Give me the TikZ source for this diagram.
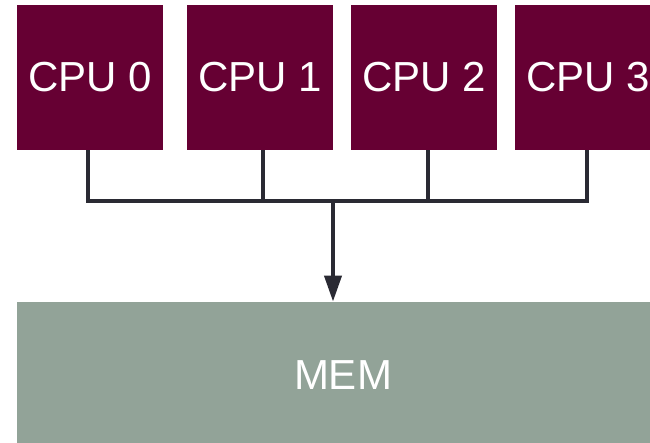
\documentclass[tikz,border=0pt]{standalone}
\usepackage{fontspec}
\setmainfont{Liberation Sans}
\usetikzlibrary{arrows.meta}
\definecolor{cpured}{HTML}{660033}
\definecolor{memgray}{HTML}{92A398}
\definecolor{wirecol}{HTML}{2A2A33}

\begin{document}
\begin{tikzpicture}[x=0.5pt,y=-0.5pt,
    cpubox/.style={fill=cpured, minimum width=73pt, minimum height=72.5pt,
      inner sep=0pt, text=white, font=\fontsize{21}{25}\selectfont},
    membox/.style={fill=memgray, minimum width=326pt, minimum height=73pt,
      inner sep=0pt, text=white, font=\fontsize{21}{25}\selectfont},
    wire/.style={draw=wirecol, line width=2pt}]
  \useasboundingbox (0,0) rectangle (650,443);
  \clip (0,0) rectangle (650,443);

  % processors
  \node[cpubox] (cpu0) at (90,77.5) {CPU 0};
  \node[cpubox] (cpu1) at (260,77.5) {CPU 1};
  \node[cpubox] (cpu2) at (424,77.5) {CPU 2};
  \node[cpubox] (cpu3) at (588,77.5) {CPU 3};

  % memory
  \node[membox] (mem) at (343,375) {MEM};

  % bus
  \coordinate (bus0) at (88,201);
  \coordinate (bus1) at (263,201);
  \coordinate (bus2) at (428,201);
  \coordinate (bus3) at (587,201);
  \coordinate (tap) at (333,201);

  \draw[wire] (cpu0.south -| bus0) -- (bus0) -- (bus3) -- (cpu3.south -| bus3);
  \draw[wire] (cpu1.south -| bus1) -- (bus1);
  \draw[wire] (cpu2.south -| bus2) -- (bus2);
  \draw[wire, -{Triangle[width=8.5pt,length=13pt]}] (tap) -- (mem.north -| tap);
\end{tikzpicture}
\end{document}
